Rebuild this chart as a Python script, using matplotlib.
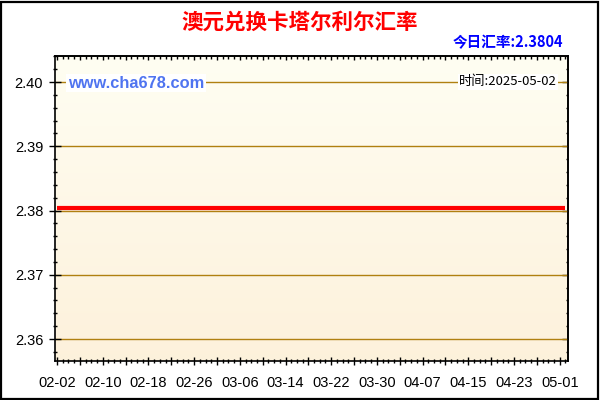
import numpy as np
import matplotlib.pyplot as plt
from matplotlib.patches import Rectangle
from matplotlib.ticker import MultipleLocator, FixedLocator

plt.rcParams['font.family'] = ['Liberation Sans', 'Noto Sans CJK SC', 'DejaVu Sans']

# data: 2025-02-02 .. 2025-05-02, flat at 2.3804
dates = np.arange('2025-02-02', '2025-05-03', dtype='datetime64[D]')
rates = [
    2.3804, 2.3804, 2.3804, 2.3804, 2.3804, 2.3804, 2.3804, 2.3804, 2.3804, 2.3804,
    2.3804, 2.3804, 2.3804, 2.3804, 2.3804, 2.3804, 2.3804, 2.3804, 2.3804, 2.3804,
    2.3804, 2.3804, 2.3804, 2.3804, 2.3804, 2.3804, 2.3804, 2.3804, 2.3804, 2.3804,
    2.3804, 2.3804, 2.3804, 2.3804, 2.3804, 2.3804, 2.3804, 2.3804, 2.3804, 2.3804,
    2.3804, 2.3804, 2.3804, 2.3804, 2.3804, 2.3804, 2.3804, 2.3804, 2.3804, 2.3804,
    2.3804, 2.3804, 2.3804, 2.3804, 2.3804, 2.3804, 2.3804, 2.3804, 2.3804, 2.3804,
    2.3804, 2.3804, 2.3804, 2.3804, 2.3804, 2.3804, 2.3804, 2.3804, 2.3804, 2.3804,
    2.3804, 2.3804, 2.3804, 2.3804, 2.3804, 2.3804, 2.3804, 2.3804, 2.3804, 2.3804,
    2.3804, 2.3804, 2.3804, 2.3804, 2.3804, 2.3804, 2.3804, 2.3804, 2.3804, 2.3804,
]
y_ticks = [2.36, 2.37, 2.38, 2.39, 2.40]
title = '澳元兑换卡塔尔利尔汇率'
today = '今日汇率:2.3804'
site = 'www.cha678.com'
stamp = '时间:2025-05-02'

x = np.arange(len(dates))
labels = [str(d)[5:] for d in dates]

fig = plt.figure(figsize=(6, 4), dpi=100)
fig.patch.set_facecolor('white')
fig.patches.append(Rectangle((0.0015, 0.002), 0.995, 0.994, transform=fig.transFigure,
                             fill=False, edgecolor='black', linewidth=1.6))

ax = fig.add_axes([55/600, 39/400, 513/600, 305/400])

# background gradient, pale at top to cream at bottom
grad = np.linspace(0, 1, 256).reshape(-1, 1)
c_top = np.array([1.0, 0.996, 0.95])
c_bot = np.array([0.992, 0.945, 0.86])
img = c_top + (c_bot - c_top) * grad[:, :, None]
ax.imshow(img, extent=[0, 1, 0, 1], transform=ax.transAxes, aspect='auto', zorder=0)

for yt in y_ticks:
    ax.axhline(yt, color='#B08010', linewidth=1.0, zorder=1)

ax.plot(x, rates, color='#FF0000', linewidth=3, solid_capstyle='butt', zorder=3)

ax.set_xlim(-0.35, 89.45)
ax.set_ylim(2.35658, 2.40405)

ax.xaxis.set_major_locator(FixedLocator(x[::4]))
ax.xaxis.set_minor_locator(MultipleLocator(1))
ax.set_xticklabels([labels[i] if i % 8 == 0 else '' for i in range(0, len(x), 4)])
ax.yaxis.set_major_locator(FixedLocator(y_ticks))
ax.yaxis.set_minor_locator(MultipleLocator(0.002))
ax.set_yticklabels(['%.2f' % v for v in y_ticks])

ax.tick_params(axis='both', which='major', direction='inout', length=8, width=1,
               labelsize=10.5, pad=4.5)
ax.tick_params(axis='both', which='minor', direction='inout', length=3, width=1)
ax.tick_params(axis='x', which='major', length=6, pad=8)

# top and right ticks point inward only
top = ax.secondary_xaxis('top')
top.xaxis.set_major_locator(FixedLocator(x[::4]))
top.xaxis.set_minor_locator(MultipleLocator(1))
top.tick_params(which='major', direction='in', length=3, width=1, labeltop=False)
top.tick_params(which='minor', direction='in', length=2.5, width=1)
right = ax.secondary_yaxis('right')
right.yaxis.set_major_locator(FixedLocator(y_ticks))
right.yaxis.set_minor_locator(MultipleLocator(0.002))
right.tick_params(which='major', direction='in', length=4, width=1, labelright=False)
right.tick_params(which='minor', direction='in', length=1.8, width=1)

for a in (ax, top, right):
    for s in a.spines.values():
        s.set_color('black')
        s.set_linewidth(1.2)

fig.text(0.5, 1 - 22/400, title, ha='center', va='center', color='#FF0000',
         fontsize=15.5, fontweight='bold', family=['Noto Sans CJK SC'])
fig.text(563/600, 1 - 42/400, today, ha='right', va='center', color='#0000FF',
         fontsize=10.5, fontweight='bold', family=['Noto Sans CJK SC', 'DejaVu Sans'])

ax.text((68 - 55)/513, 1 - 27/305, site, transform=ax.transAxes, ha='left', va='center',
        color='#4F74F0', fontsize=11.8, fontweight='bold', zorder=5,
        bbox=dict(boxstyle='square,pad=0.1', facecolor='white', edgecolor='none'))
ax.text((557 - 55)/513, 1 - 26/305, stamp, transform=ax.transAxes, ha='right', va='center',
        color='black', fontsize=9.5, zorder=5, family=['Noto Sans CJK SC', 'DejaVu Sans'],
        bbox=dict(boxstyle='square,pad=0.1', facecolor='white', edgecolor='none'))

fig.savefig('out.png', dpi=100)
